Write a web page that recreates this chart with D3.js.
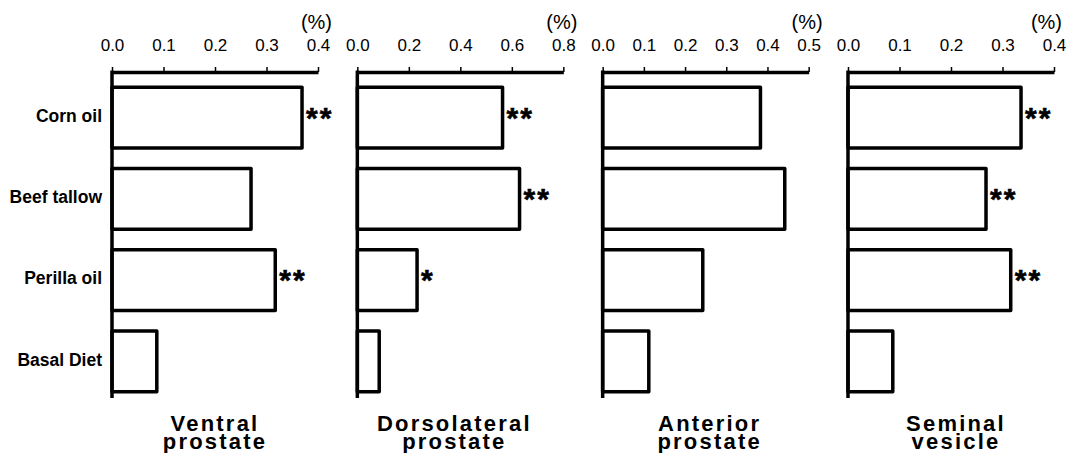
<!DOCTYPE html>
<html>
<head>
<meta charset="utf-8">
<script src="https://cdn.jsdelivr.net/npm/d3@7"></script>
<style>
  html, body { margin: 0; padding: 0; background: #fff; }
  svg { display: block; }
  text { font-family: "Liberation Sans", Arial, Helvetica, sans-serif; fill: #000; }
</style>
</head>
<body>
<svg id="chart" width="1068" height="453"></svg>
<script>
// ---- data ----
const categories = ["Corn oil", "Beef tallow", "Perilla oil", "Basal Diet"];
const panelTitles = [["Ventral", "prostate"], ["Dorsolateral", "prostate"], ["Anterior", "prostate"], ["Seminal", "vesicle"]];
const ventralValues = [0.369, 0.270, 0.317, 0.087];
const dorsolateralValues = [0.564, 0.630, 0.232, 0.085];
const anteriorValues = [0.383, 0.442, 0.243, 0.112];
const seminalValues = [0.336, 0.268, 0.316, 0.087];
const ventralSig = ["**", "", "**", ""];
const dorsolateralSig = ["**", "**", "*", ""];
const anteriorSig = ["", "", "", ""];
const seminalSig = ["**", "**", "**", ""];
const axisMax = [0.4, 0.8, 0.5, 0.4];
const ventralTicks = [0.0, 0.1, 0.2, 0.3, 0.4];
const dorsolateralTicks = [0.0, 0.2, 0.4, 0.6, 0.8];
const anteriorTicks = [0.0, 0.1, 0.2, 0.3, 0.4, 0.5];
const seminalTicks = [0.0, 0.1, 0.2, 0.3, 0.4];
const unitLabel = "(%)";

const panels = [
  { values: ventralValues, sig: ventralSig, ticks: ventralTicks, max: axisMax[0], title: panelTitles[0] },
  { values: dorsolateralValues, sig: dorsolateralSig, ticks: dorsolateralTicks, max: axisMax[1], title: panelTitles[1] },
  { values: anteriorValues, sig: anteriorSig, ticks: anteriorTicks, max: axisMax[2], title: panelTitles[2] },
  { values: seminalValues, sig: seminalSig, ticks: seminalTicks, max: axisMax[3], title: panelTitles[3] }
];

// ---- layout ----
const svg = d3.select("#chart");
const firstX = 112, panelGap = 245.33, panelW = 206;
const axisY = 72, axisBottom = 398;
const sigSize = 30;
const titleShift = [0, -6, 4, 5];

const y = d3.scaleBand().domain(categories).range([77, 402]).paddingInner(0.25).paddingOuter(0.125);

// category labels
svg.append("g").selectAll("text").data(categories).join("text")
  .attr("x", firstX - 10)
  .attr("y", d => y(d) + y.bandwidth() / 2 - 2)
  .attr("dy", "0.35em")
  .attr("text-anchor", "end")
  .style("font-size", "17.5px")
  .style("font-weight", "bold")
  .text(d => d);

panels.forEach((p, i) => {
  const x0 = firstX + i * panelGap;
  const x = d3.scaleLinear().domain([0, p.max]).range([x0, x0 + panelW]);
  const g = svg.append("g");

  // bars
  g.selectAll("rect").data(p.values).join("rect")
    .attr("x", x(0))
    .attr("y", (d, j) => y(categories[j]))
    .attr("width", d => x(d) - x(0))
    .attr("height", y.bandwidth())
    .attr("fill", "#fff")
    .attr("stroke", "#000")
    .attr("stroke-width", 3.5)
    .attr("stroke-linejoin", "round");

  // significance
  g.selectAll("text.sig").data(p.values).join("text")
    .attr("class", "sig")
    .attr("x", d => x(d) + 4)
    .attr("y", (d, j) => y(categories[j]) + y.bandwidth() / 2 - 7 + 0.57 * sigSize)
    .style("font-size", sigSize + "px")
    .style("font-weight", "bold")
    .style("letter-spacing", "2px")
    .style("stroke", "#000")
    .style("stroke-width", "0.6px")
    .text((d, j) => p.sig[j]);

  // top axis
  const axis = d3.axisTop(x).tickValues(p.ticks).tickFormat(d3.format(".1f")).tickSize(5).tickSizeOuter(0);
  const ag = g.append("g").attr("transform", `translate(0,${axisY})`).call(axis);
  ag.select(".domain").attr("stroke", "#000").attr("stroke-width", 3.5);
  ag.selectAll(".tick line").attr("stroke", "#000").attr("stroke-width", 1.5);
  ag.selectAll(".tick text")
    .attr("y", -21).attr("dy", 0)
    .style("font-size", "17px")
    .style("font-family", "'Liberation Sans', Arial, sans-serif")
    .attr("fill", "#000");

  // unit
  g.append("text")
    .attr("x", Math.min(x(p.max) + 14, 1062))
    .attr("y", 29)
    .attr("text-anchor", "end")
    .style("font-size", "20px")
    .text(unitLabel);

  // vertical axis
  g.append("line")
    .attr("x1", x0).attr("x2", x0)
    .attr("y1", axisY - 1.5).attr("y2", axisBottom)
    .attr("stroke", "#000").attr("stroke-width", 3.5);

  // title
  const cx = x0 + panelW / 2 + titleShift[i];
  const t = g.append("text")
    .attr("text-anchor", "middle")
    .style("font-size", "22px")
    .style("font-weight", "bold")
    .style("letter-spacing", "2.2px");
  t.append("tspan").attr("x", cx).attr("y", 431).text(p.title[0]);
  t.append("tspan").attr("x", cx).attr("y", 449).text(p.title[1]);
});
</script>
</body>
</html>
